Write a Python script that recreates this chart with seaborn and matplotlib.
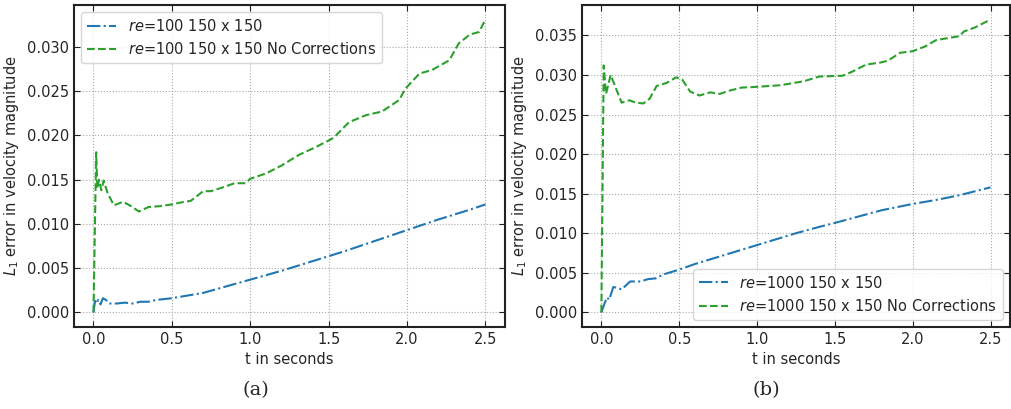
import numpy as np
import pandas as pd
import matplotlib
matplotlib.use("Agg")
from matplotlib import pyplot as plt
import seaborn as sns

# re=100, 150 x 150
t_a_corr = [0.0, 0.01, 0.02, 0.03, 0.045, 0.06, 0.08, 0.1, 0.15, 0.2, 0.25, 0.3, 0.35, 0.4,
            0.5, 0.6, 0.7, 0.8, 0.9, 1.0, 1.2, 1.4, 1.6, 1.8, 2.0, 2.2, 2.4, 2.5]
v_a_corr = [0.0, 0.0013, 0.0010, 0.0014, 0.0009, 0.0016, 0.0014, 0.0010, 0.0010, 0.0011, 0.0010,
            0.0012, 0.0012, 0.0014, 0.0016, 0.0019, 0.0022, 0.0027, 0.0032, 0.0037, 0.0047, 0.0058,
            0.0069, 0.0081, 0.0093, 0.0105, 0.0116, 0.0122]
t_a_noc = [0.0, 0.017, 0.025, 0.035, 0.05, 0.065, 0.09, 0.13, 0.19, 0.24, 0.29, 0.35, 0.42,
           0.5, 0.55, 0.62, 0.7, 0.75, 0.82, 0.9, 0.97, 1.0, 1.1, 1.2, 1.31, 1.42, 1.53, 1.63,
           1.74, 1.84, 1.95, 1.99, 2.08, 2.16, 2.27, 2.33, 2.40, 2.46, 2.5]
v_a_noc = [0.0, 0.0181, 0.0140, 0.0150, 0.0138, 0.0149, 0.0135, 0.0121, 0.0125, 0.0120, 0.0114,
           0.0119, 0.0120, 0.0122, 0.0124, 0.0126, 0.0137, 0.0137, 0.0141, 0.0146, 0.0146,
           0.0151, 0.0157, 0.0166, 0.0178, 0.0187, 0.0197, 0.0215, 0.0223, 0.0227, 0.0240,
           0.0253, 0.0270, 0.0274, 0.0285, 0.0304, 0.0314, 0.0317, 0.0331]

# re=1000, 150 x 150
t_b_corr = [0.0, 0.02, 0.036, 0.05, 0.077, 0.1, 0.13, 0.185, 0.25, 0.3, 0.35, 0.4, 0.5, 0.6,
            0.75, 0.9, 1.0, 1.1, 1.25, 1.4, 1.5, 1.65, 1.8, 2.0, 2.15, 2.3, 2.5]
v_b_corr = [0.0, 0.0011, 0.0019, 0.0016, 0.0032, 0.0031, 0.0029, 0.0039, 0.0039, 0.0042, 0.0043,
            0.0048, 0.0054, 0.0061, 0.0070, 0.0079, 0.0085, 0.0091, 0.0100, 0.0108, 0.0113,
            0.0121, 0.0129, 0.0137, 0.0142, 0.0148, 0.0158]
t_b_noc = [0.0, 0.015, 0.03, 0.06, 0.13, 0.18, 0.22, 0.27, 0.31, 0.355, 0.42, 0.48, 0.52, 0.57,
           0.63, 0.7, 0.76, 0.82, 0.9, 1.0, 1.15, 1.3, 1.4, 1.55, 1.61, 1.7, 1.8, 1.84, 1.92,
           2.0, 2.08, 2.15, 2.3, 2.33, 2.4, 2.5]
v_b_noc = [0.0, 0.0312, 0.0276, 0.0300, 0.0265, 0.0268, 0.0265, 0.0264, 0.0270, 0.0286, 0.0290,
           0.0297, 0.0294, 0.0279, 0.0274, 0.0278, 0.0276, 0.0280, 0.0284, 0.0285, 0.0287,
           0.0292, 0.0298, 0.0299, 0.0304, 0.0313, 0.0316, 0.0318, 0.0328, 0.0330, 0.0336,
           0.0344, 0.0349, 0.0355, 0.0360, 0.0370]

sns.set_style("ticks")
plt.rcParams["font.family"] = ["DejaVu Sans"]
plt.rcParams["font.size"] = 10.5

fig = plt.figure(figsize=(10.12, 4.09), dpi=100)
ax1 = fig.add_axes([0.073, 0.2005, 0.426, 0.7875])
ax2 = fig.add_axes([0.575, 0.2005, 0.423, 0.7875])

panels = [
    (ax1, "100", t_a_corr, v_a_corr, t_a_noc, v_a_noc, "upper left"),
    (ax2, "1000", t_b_corr, v_b_corr, t_b_noc, v_b_noc, "lower right"),
]
for ax, re, tc, vc, tn, vn, loc in panels:
    sns.lineplot(x=tc, y=vc, ax=ax, color="#1f77b4", linestyle="-.", lw=1.5,
                 label=f"$re$={re} 150 x 150")
    sns.lineplot(x=tn, y=vn, ax=ax, color="#2ca02c", linestyle="--", lw=1.5,
                 label=f"$re$={re} 150 x 150 No Corrections")
    ax.set_xlabel("t in seconds")
    ax.set_ylabel("$L_1$ error in velocity magnitude")
    ax.set_xticks([0.0, 0.5, 1.0, 1.5, 2.0, 2.5])
    ax.grid(True, linestyle=":", color="#aaaaaa", lw=0.8)
    ax.tick_params(direction="in", top=True, right=True, length=4, color="#222222",
                   labelsize=10.5)
    for s in ax.spines.values():
        s.set_linewidth(1.5)
        s.set_color("#222222")
    ax.legend(loc=loc, fontsize=10.5, framealpha=0.8)

ax1.set_yticks(np.arange(0, 0.031, 0.005))
ax2.set_yticks(np.arange(0, 0.036, 0.005))
ax1.yaxis.set_major_formatter(matplotlib.ticker.FormatStrFormatter("%.3f"))
ax2.yaxis.set_major_formatter(matplotlib.ticker.FormatStrFormatter("%.3f"))

fig.text(0.253, 0.035, "(a)", family="DejaVu Serif", fontsize=14, ha="center")
fig.text(0.757, 0.035, "(b)", family="DejaVu Serif", fontsize=14, ha="center")

fig.savefig("out.png", dpi=100)
